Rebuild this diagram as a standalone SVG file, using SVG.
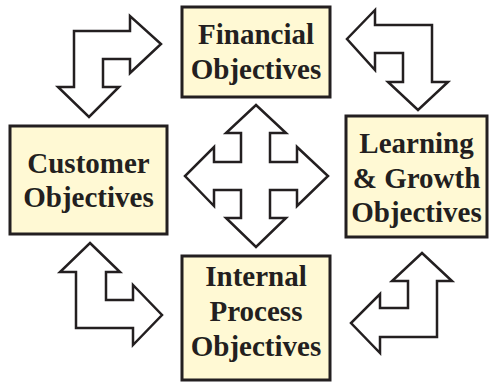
<svg xmlns="http://www.w3.org/2000/svg" width="490" height="383" viewBox="0 0 490 383">
<style>
.box{fill:#fff9d4;stroke:#231f20;stroke-width:3}
.arr{fill:#fff;stroke:#231f20;stroke-width:2.5;stroke-linejoin:miter}
.t{font-family:"Liberation Serif","Times New Roman",serif;font-weight:bold;font-size:29px;fill:#231f20;text-anchor:middle}
</style>
<rect width="490" height="383" fill="#fff"/>
<g id="connectors">
<path class="arr" d="M74,31 L130,31 L130,16 L161,44 L130,73 L130,59 L103,59 L103,87 L119,87 L89,117 L58,87 L74,87 Z"/>
<path class="arr" d="M432,25 L375,25 L375,10 L347,39 L375,70 L375,53 L403,53 L403,82 L388,82 L418,110 L448,82 L432,82 Z"/>
<path class="arr" d="M90,243 L120,272 L106,272 L106,300 L133,300 L133,285 L162,315 L133,345 L133,328 L76,328 L76,272 L60,272 Z"/>
<path class="arr" d="M422,253 L452,281 L437,281 L437,337 L380,337 L380,353 L351,323 L380,294 L380,308 L408,308 L408,281 L392,281 Z"/>
<path class="arr" d="M256,105 L286,133 L270,133 L270,162 L297,162 L297,147 L328,176 L297,206 L297,190 L270,190 L270,218 L286,218 L256,247 L226,218 L241,218 L241,190 L214,190 L214,206 L185,176 L214,147 L214,162 L241,162 L241,133 L226,133 Z"/>
</g>
<g id="financial">
<rect class="box" x="182" y="7" width="148" height="90"/>
<text class="t" x="256" y="44">Financial</text>
<text class="t" x="256" y="79">Objectives</text>
</g>
<g id="customer">
<rect class="box" x="10" y="126" width="157" height="108"/>
<text class="t" x="88.5" y="173">Customer</text>
<text class="t" x="88.5" y="207">Objectives</text>
</g>
<g id="learning">
<rect class="box" x="346" y="116" width="141" height="121"/>
<text class="t" x="416.5" y="153">Learning</text>
<text class="t" x="416.5" y="187.5">&amp; Growth</text>
<text class="t" x="416.5" y="222">Objectives</text>
</g>
<g id="internal">
<rect class="box" x="182" y="256" width="148" height="124"/>
<text class="t" x="256" y="286">Internal</text>
<text class="t" x="256" y="321">Process</text>
<text class="t" x="256" y="356">Objectives</text>
</g>
</svg>
